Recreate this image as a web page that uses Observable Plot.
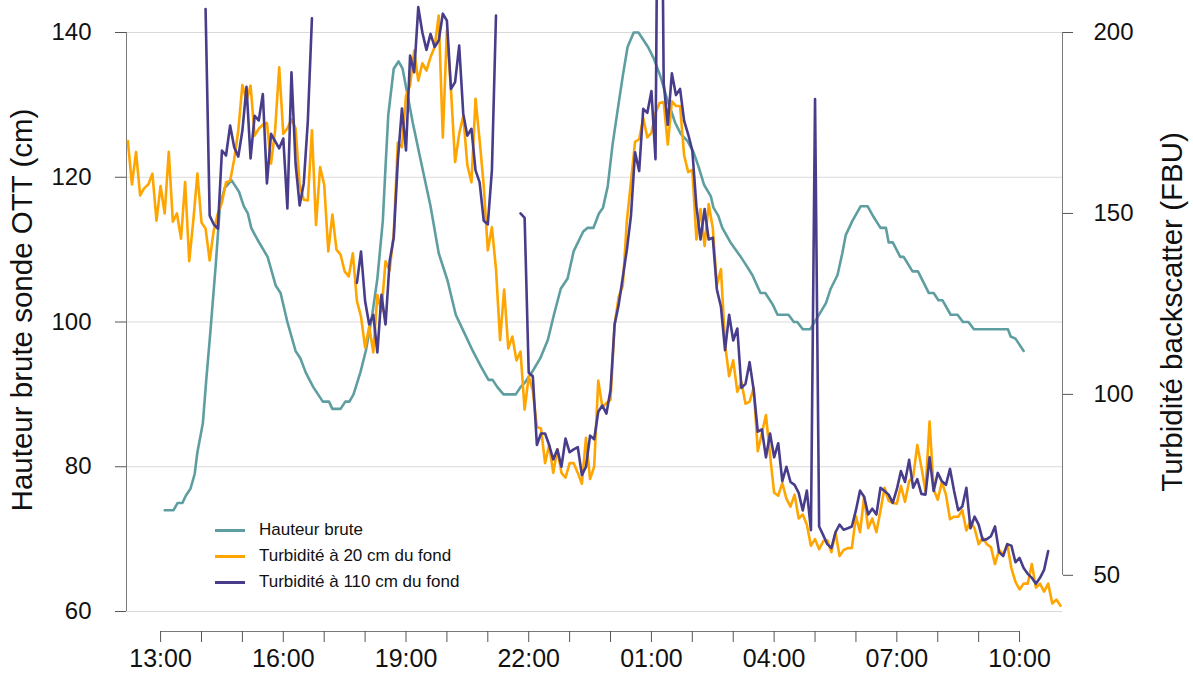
<!DOCTYPE html>
<html>
<head>
<meta charset="utf-8">
<script src="https://cdn.jsdelivr.net/npm/d3@7"></script>
<script src="https://cdn.jsdelivr.net/npm/@observablehq/plot@0.6"></script>
<style>
  html, body { margin: 0; padding: 0; background: #fff; }
  #wrap { position: relative; width: 1193px; height: 675px; }
  #legend { position: absolute; left: 215px; top: 517px; font-family: 'Liberation Sans', Arial, sans-serif; font-size: 17px; color: #111; }
  #legend .row { display: flex; align-items: center; height: 26px; }
  #legend .sw { width: 30px; height: 3px; margin-right: 14px; }
  .ytitle { position: absolute; font-family: 'Liberation Sans', Arial, sans-serif; font-size: 29.5px; color: #111; white-space: nowrap; transform: translate(-50%, -50%) rotate(-90deg); }
</style>
</head>
<body>
<div id="wrap">
  <div id="legend"></div>
  <div class="ytitle" id="titleLeft" style="left:22px; top:310px;"></div>
  <div class="ytitle" id="titleRight" style="left:1172px; top:312px;"></div>
</div>
<script>
// ---- Data ----
const seriesNames = ["Hauteur brute", "Turbidité à 20 cm du fond", "Turbidité à 110 cm du fond"];
const seriesColors = ["cadetblue", "orange", "darkslateblue"];
const leftTitle = "Hauteur brute sonde OTT (cm)";
const rightTitle = "Turbidité backscatter (FBU)";

const xTickLabels = ["13:00", "16:00", "19:00", "22:00", "01:00", "04:00", "07:00", "10:00"];
const leftTicks = [60, 80, 100, 120, 140];     // Hauteur (cm)
const rightTicks = [50, 100, 150, 200];         // Turbidité (FBU)
const xDomainLabels = ["12:10", "11:03"];

// Hauteur brute sonde OTT (cm)
const hauteurTime = ["13:06","13:19","13:25","13:32","13:37","13:44","13:50","13:54","14:02","14:07","14:13","14:21","14:27","14:34","14:44","14:55","15:02","15:08","15:13","15:22","15:37","15:49","15:56","16:06","16:18","16:25","16:33","16:44","16:58","17:07","17:12","17:24","17:31","17:37","17:43","17:53","18:01","18:10","18:18","18:26","18:30","18:34","18:42","18:49","18:55","19:01","19:10","19:21","19:36","19:48","20:01","20:13","20:25","20:38","20:49","21:01","21:07","21:14","21:23","21:41","21:48","21:55","22:07","22:17","22:28","22:37","22:47","22:57","23:06","23:20","23:26","23:35","23:43","23:49","23:56","00:03","00:10","00:18","00:25","00:34","00:41","00:55","01:03","01:13","01:24","01:35","01:43","01:53","02:02","02:09","02:17","02:27","02:31","02:38","02:44","02:56","03:11","03:18","03:28","03:40","03:47","03:58","04:05","04:21","04:29","04:34","04:42","04:53","05:04","05:16","05:23","05:33","05:40","05:45","05:55","06:07","06:17","06:26","06:36","06:44","06:48","06:54","07:05","07:10","07:23","07:31","07:47","07:54","08:01","08:07","08:19","08:29","08:37","08:45","08:53","09:43","09:47","09:54","10:06"];
const hauteurValue = [74,74,75,75,76,77,79,82,86,92,98.6,108,116,118.5,119.6,118,116,115,113,111.4,109,105,104,100,96,95,93,91,89,89,88,88,89,89,90,93,96,100.7,106,114,121.5,128.6,135,136,135,132,127.5,122.6,116,109.5,105.7,101,98.6,96,94,92,92,91,90,90,91,91.7,93.4,95,97.5,101,104.6,106,109.8,112.5,113,113,115,115.8,118.8,124.5,129,134,138,140,140,138,136.5,134,130.5,127.5,126,125,123.4,121.5,119,117.4,115.8,114.7,113,111,109,108,106.5,104,104,102.4,101,101,100,100,99,99,100.7,102.6,104.6,106.5,109.5,112,114,116,116,114.5,113,113,111,111,109,109,107,107,104,104,103,103,101,101,100,100,99,99,98,97.7,96];

// Turbidité backscatter (FBU), one reading every 6 minutes
const turbStepMinutes = 6;
const turb20Start = "12:12";
const turb20 = [170,158,167,155,157,158,161,148,157.6,150,167,147.7,150,143,158.7,136.8,148,161,147.5,145.8,137,145.3,150,153,158.6,159,165,173,185.5,181.2,185.3,171.5,173.4,174.5,175,163.8,173,190.4,172,173.5,176,173.5,158,153.8,153.6,173,146.8,162.8,158,139.5,149.7,140,138.6,134,132.6,139,125.8,121.5,112.9,118.7,111.6,127.5,123,136.8,134.3,144.4,169.6,168.3,182.5,185.4,195,186.7,191.5,189.5,193.2,196,204.7,171,200.6,184,164.2,172,177,163.3,158.6,181.7,170.2,157.7,139.8,146.2,134.6,115,129,112.7,116,109.4,111.8,95.8,105,101,91,90.6,81,86,78.3,84.8,78.3,77,81,81,78.3,75.3,88,76.6,80,103.8,96.5,97.6,98.5,119.3,127,130,148,158.7,169.8,170.5,176.4,171,172.3,177.8,180.5,180.8,169,181,179.7,179.7,166,161.4,162,142.8,151.2,141,152.6,146,130.2,134.6,113.8,105,109.4,100.7,103.4,97.4,98,101.8,84.3,89.2,94.3,83.2,72.8,72,75.5,71.2,69,72.3,65.7,66.8,64,58.2,60,57.2,59.4,59.7,56.4,61.9,55.3,57,57.5,57.5,66.3,61.9,71.7,63,65.7,61.9,67.9,74.2,70.6,70,69.8,74.7,70.3,76,77.2,86,79.9,73.3,92.5,73.8,70.9,75.8,72.3,65.5,66.2,66.2,68,62.4,65,63,58.6,60.4,58.6,57.8,53.1,57,55.8,58.6,52,48.2,46.1,47.7,47.7,53.1,46.6,47.7,45.5,47.7,42.2,43.3,41.6];
const turb110Start = "14:06";
const turb110 = [206.5,149.4,147,145.8,167.4,166,174.3,168.3,165.7,172.9,185,165.2,177,175.7,183,158.3,172,170,168,170.7,151.4,189,163.8,152.2,158.3,175.6,203.9,null,null,null,null,null,null,null,null,null,null,130.8,139.5,125.8,119.3,122,111.6,127.5,119.3,136.8,143.3,164.6,179,167.4,193.6,189,207,200,195.2,199.6,196,197.8,205.2,203.3,184.4,186.3,196.4,177.5,171.5,173.4,161.9,158.6,148,147,161.9,204.7,null,null,null,null,null,150,148.8,106,105,86,89.2,89.2,86,82,84.8,80,87.8,84,84.8,85.4,77.7,80,88.6,87.6,95.2,96.9,94.7,101.2,119.3,124.8,132.4,140,149.4,166.9,161.7,178.9,177.8,183.8,165,320,186,174.5,188.7,182.7,184.4,175.6,171.8,167.4,152,142.8,151.2,142.8,143.3,129,124.2,112.2,122,114.9,118.2,101.8,102.9,108.9,101.2,89.7,90.3,82.6,89.2,82.6,86.5,76,80,75.8,75,72.8,67.9,73.4,62.5,181.6,63.5,61.1,58.6,57.5,61.9,64,62.6,63,63.5,68,73.4,71.7,66.8,68.4,66.8,74.2,73.3,72.3,70,73.8,78.8,75.8,81.9,74.2,76.6,72.5,72.3,82.6,73.3,78.3,76,75,79.4,73.3,68,69,74.2,63,66.2,64,59.7,60,60.8,63.5,56.4,55.3,58.6,58.2,53.6,54.8,52,50.4,49.3,47.7,49.3,51.5,56.7];

// ---- Helpers ----
// clock time -> Date (hours before noon belong to the next day)
const toDate = s => { const [h, m] = s.split(":").map(Number); return new Date(2021, 5, h >= 12 ? 1 : 2, h, m); };
// left axis (cm) shares the frame with the right axis (FBU): 60 cm <-> 40 FBU, 140 cm <-> 200 FBU
const cmToFbu = cm => 40 + (cm - 60) * 2;
const fbuToCm = f => (f - 40) / 2 + 60;

const hauteur = hauteurTime.map((t, i) => ({t: toDate(t), v: hauteurValue[i]}));
const series = (start, values) => values.map((v, i) => ({t: new Date(toDate(start).getTime() + i * turbStepMinutes * 60000), v}));
const t20 = series(turb20Start, turb20);
const t110 = series(turb110Start, turb110);

const xDomain = xDomainLabels.map(toDate);
const firstTick = toDate(xTickLabels[0]);
const lastTick = toDate(xTickLabels[xTickLabels.length - 1]);
const hourTicks = d3.timeHour.range(firstTick, new Date(lastTick.getTime() + 1));
const fmt = d3.timeFormat("%H:%M");

const axisColor = "#7a7a7a";
const font = "'Liberation Sans', Arial, sans-serif";

const chart = Plot.plot({
  width: 1193,
  height: 675,
  marginLeft: 126,
  marginRight: 131,
  marginTop: 32,
  marginBottom: 64,
  style: {fontFamily: font, fontSize: "24px", color: "#111", background: "white"},
  x: {type: "time", domain: xDomain},
  y: {domain: [40, 200]},
  marks: [
    Plot.gridY(leftTicks.map(cmToFbu), {stroke: "#d9d9d9", strokeOpacity: 1}),
    Plot.ruleX([xDomain[0]], {y1: cmToFbu(leftTicks[0]), y2: cmToFbu(leftTicks[leftTicks.length - 1]), stroke: axisColor}),
    Plot.ruleX([xDomain[1]], {y1: rightTicks[0], y2: rightTicks[rightTicks.length - 1], stroke: axisColor}),
    Plot.axisY(leftTicks.map(cmToFbu), {anchor: "left", tickSize: 11, tickPadding: 24, stroke: "#555", tickFormat: d => String(fbuToCm(d)), label: null}),
    Plot.axisY(rightTicks, {anchor: "right", tickSize: 10, tickPadding: 21, stroke: "#555", label: null}),
    Plot.ruleY([40], {x1: firstTick, x2: lastTick, dy: 20, stroke: axisColor}),
    Plot.axisX(hourTicks, {anchor: "bottom", tickSize: 11, tickPadding: 7, dy: 20, stroke: "#555", fontSize: 25, tickFormat: d => xTickLabels.includes(fmt(d)) ? fmt(d) : "", label: null}),
    Plot.line(hauteur, {x: "t", y: d => cmToFbu(d.v), stroke: seriesColors[0], strokeWidth: 2.6}),
    Plot.line(t20, {x: "t", y: "v", stroke: seriesColors[1], strokeWidth: 2.6}),
    Plot.line(t110, {x: "t", y: "v", stroke: seriesColors[2], strokeWidth: 2.6})
  ]
});
document.getElementById("wrap").prepend(chart);

document.getElementById("titleLeft").textContent = leftTitle;
document.getElementById("titleRight").textContent = rightTitle;

const legend = document.getElementById("legend");
seriesNames.forEach((name, i) => {
  const row = document.createElement("div");
  row.className = "row";
  row.innerHTML = `<span class="sw" style="background:${seriesColors[i]}"></span><span>${name}</span>`;
  legend.appendChild(row);
});
</script>
</body>
</html>
